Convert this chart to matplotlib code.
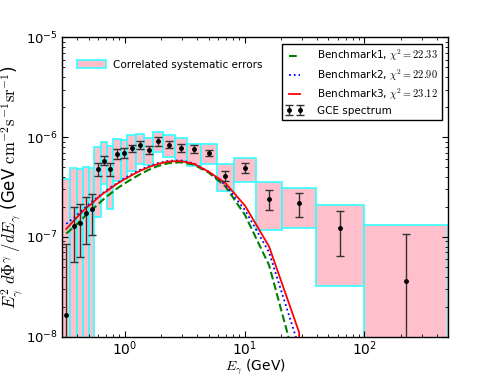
import matplotlib

matplotlib.use("Agg")
import matplotlib.pyplot as plt
import numpy as np

# energy bin edges (GeV)
edges = [0.30, 0.35, 0.40, 0.45, 0.50, 0.557, 0.627, 0.711, 0.80, 0.92, 1.05,
         1.24, 1.45, 1.72, 2.09, 2.62, 3.28, 4.31, 5.84, 8.19, 12.4, 20.6,
         39.4, 100.0, 500.0]

# GCE spectrum, E^2 dN/dE (GeV cm^-2 s^-1 sr^-1)
flux = [1.63e-8, 1.28e-7, 1.38e-7, 1.74e-7, 1.92e-7, 4.8e-7, 5.82e-7, 4.8e-7,
        6.78e-7, 6.93e-7, 7.73e-7, 8.35e-7, 7.45e-7, 9.08e-7, 8.41e-7, 7.85e-7,
        7.62e-7, 6.89e-7, 4.11e-7, 4.88e-7, 2.38e-7, 2.17e-7, 1.22e-7, 3.65e-8]
stat_hi = [8.5e-8, 1.98e-7, 2.14e-7, 2.49e-7, 2.66e-7, 5.5e-7, 6.5e-7, 5.5e-7,
           7.6e-7, 7.8e-7, 8.4e-7, 9.1e-7, 8.1e-7, 1.0e-6, 9.2e-7, 8.6e-7,
           8.4e-7, 7.5e-7, 4.6e-7, 5.5e-7, 2.97e-7, 2.75e-7, 1.8e-7, 1.07e-7]
stat_lo = [1e-9, 5.65e-8, 6.35e-8, 8.5e-8, 1.05e-7, 4.1e-7, 5.2e-7, 4.1e-7,
           6.05e-7, 6.15e-7, 7.1e-7, 7.6e-7, 6.8e-7, 8.2e-7, 7.7e-7, 7.1e-7,
           6.9e-7, 6.4e-7, 3.6e-7, 4.4e-7, 1.85e-7, 1.6e-7, 6.4e-8, 1e-9]

# correlated systematic error band (1e-9 = runs off the bottom)
sys_top = [3.81e-7, 4.88e-7, 4.8e-7, 4.98e-7, 4.9e-7, 8.0e-7, 8.9e-7, 8.1e-7,
           9.6e-7, 9.37e-7, 1.05e-6, 1.08e-6, 9.8e-7, 1.12e-6, 1.04e-6, 9.73e-7,
           8.55e-7, 8.55e-7, 5.38e-7, 6.18e-7, 3.58e-7, 3.07e-7, 2.11e-7, 1.32e-7]
sys_bot = [1e-9, 1e-9, 1e-9, 1e-9, 1e-9, 1.6e-7, 3.4e-7, 1.9e-7, 3.66e-7,
           3.8e-7, 4.6e-7, 5.38e-7, 5.26e-7, 7.05e-7, 6.28e-7, 5.72e-7, 5.18e-7,
           5.38e-7, 2.86e-7, 3.58e-7, 1.17e-7, 1.23e-7, 3.23e-8, 1e-9]

# benchmark model spectra at bin centres
bench1 = [1.08e-7, 1.25e-7, 1.45e-7, 1.65e-7, 1.85e-7, 2.1e-7, 2.4e-7, 2.7e-7,
          3.05e-7, 3.4e-7, 3.8e-7, 4.25e-7, 4.7e-7, 5.15e-7, 5.5e-7, 5.6e-7,
          5.3e-7, 4.4e-7, 3.2e-7, 1.65e-7, 5.2e-8, 4.0e-9, 0.0, 0.0]
bench2 = [1.35e-7, 1.55e-7, 1.78e-7, 2.0e-7, 2.25e-7, 2.5e-7, 2.8e-7, 3.12e-7,
          3.45e-7, 3.85e-7, 4.25e-7, 4.7e-7, 5.1e-7, 5.5e-7, 5.8e-7, 5.85e-7,
          5.45e-7, 4.5e-7, 3.3e-7, 1.85e-7, 7.0e-8, 7.8e-9, 0.0, 0.0]
bench3 = [1.2e-7, 1.45e-7, 1.7e-7, 1.95e-7, 2.15e-7, 2.45e-7, 2.75e-7, 3.05e-7,
          3.4e-7, 3.75e-7, 4.15e-7, 4.6e-7, 5.0e-7, 5.4e-7, 5.7e-7, 5.75e-7,
          5.4e-7, 4.5e-7, 3.45e-7, 2.05e-7, 8.0e-8, 1.1e-8, 0.0, 0.0]

labels = [r"Benchmark1, $\chi^2=22.33$",
          r"Benchmark2, $\chi^2=22.90$",
          r"Benchmark3, $\chi^2=23.12$"]

plt.rcParams.update({
    "font.size": 12,
    "mathtext.fontset": "cm",
    "axes.unicode_minus": False,
    "xtick.direction": "in",
    "ytick.direction": "in",
    "xtick.top": True,
    "ytick.right": True,
    "xtick.major.size": 4,
    "ytick.major.size": 4,
    "xtick.minor.size": 2,
    "ytick.minor.size": 2,
    "xtick.major.pad": 2,
    "ytick.major.pad": 3,
    "xtick.labelsize": 10,
    "ytick.labelsize": 9.5,
    "axes.linewidth": 1.0,
    "legend.numpoints": 2,
})

lo_edges = np.array(edges[:-1])
hi_edges = np.array(edges[1:])
centres = np.sqrt(lo_edges * hi_edges)
flux = np.array(flux)

fig = plt.figure(figsize=(4.98, 3.74), dpi=100)
fig.subplots_adjust(left=0.125, right=0.9, bottom=0.1, top=0.9)
ax = fig.add_subplot(111)
ax.set_xscale("log")
ax.set_yscale("log")

boxes = ax.bar(lo_edges, np.array(sys_top) - np.array(sys_bot), width=hi_edges - lo_edges,
               bottom=sys_bot, align="edge", color="pink", edgecolor="#33ffff",
               linewidth=1.2, zorder=1)

l1, = ax.plot(centres, bench1, "--", color="green", lw=1.5, zorder=3)
l2, = ax.plot(centres, bench2, ":", color="blue", lw=1.3, zorder=3)
l3, = ax.plot(centres, bench3, "-", color="red", lw=1.3, zorder=3)

yerr = [flux - np.array(stat_lo), np.array(stat_hi) - flux]
eb = ax.errorbar(centres, flux, yerr=yerr, fmt="o", color="black", ms=2.5,
                 ecolor="#333333", elinewidth=1.0, capsize=3, zorder=4)

ax.set_xlim(0.3, 500)
ax.set_ylim(1e-8, 1e-5)
ax.set_xlabel(r"$E_\gamma$ (GeV)", fontsize=10)
ax.set_ylabel(r"$E_\gamma^2\; d\Phi^\gamma\; /dE_\gamma$ (GeV $\mathrm{cm}^{-2}\mathrm{s}^{-1}\mathrm{sr}^{-1}$)",
              fontsize=12)
ax.xaxis.set_label_coords(0.5, -0.071)
ax.yaxis.set_label_coords(-0.097, 0.5)

leg1 = ax.legend([boxes], ["Correlated systematic errors"], loc="upper left",
                 bbox_to_anchor=(0.039, 0.925), frameon=False, fontsize=7.5,
                 handlelength=2.8, handleheight=0.8, handletextpad=0.6,
                 borderpad=0, borderaxespad=0)
ax.add_artist(leg1)
leg2 = ax.legend([l1, l2, l3, eb], labels + ["GCE spectrum"], loc="upper right",
                 fontsize=7.5, fancybox=False, framealpha=1, edgecolor="black",
                 labelspacing=0.35, handlelength=1.7, handletextpad=1.3,
                 borderaxespad=0.6)
leg2.get_frame().set_linewidth(1.0)

fig.savefig("out.png", dpi=100)
